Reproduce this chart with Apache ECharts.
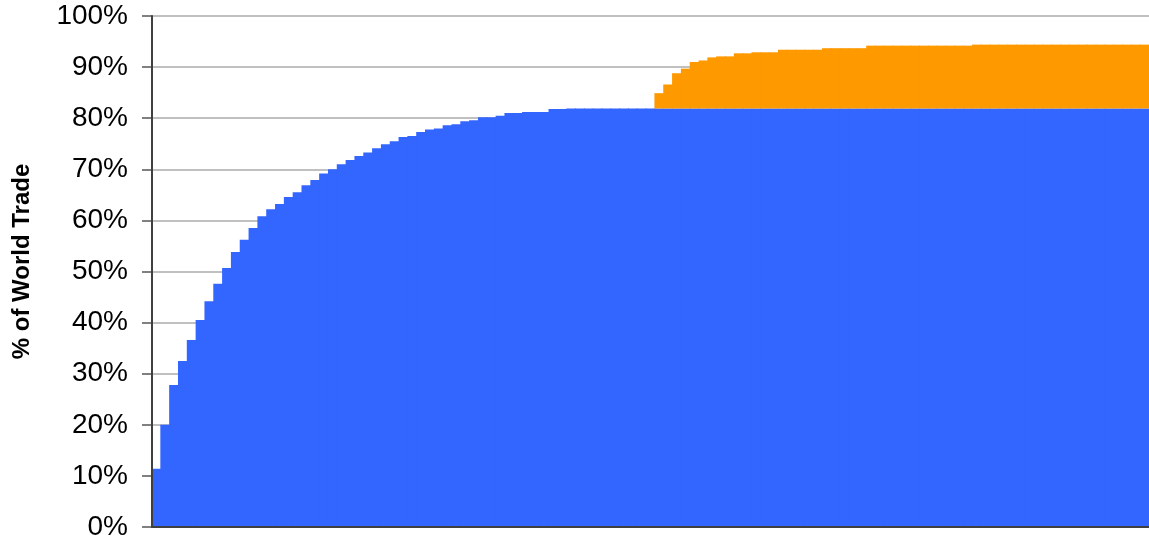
<!DOCTYPE html>
<html>
<head>
<meta charset="utf-8">
<script src="https://cdn.jsdelivr.net/npm/echarts@6/dist/echarts.min.js"></script>
<style>
  html, body { margin: 0; padding: 0; background: #fff; }
  #chart { width: 1149px; height: 541px; }
</style>
</head>
<body>
<div id="chart"></div>
<script>
// cumulative share of world trade (%)
const blueShare = [
  11.4, 20.0, 27.8, 32.5, 36.6, 40.5, 44.2, 47.6, 50.7, 53.8,
  56.2, 58.5, 60.8, 62.2, 63.2, 64.6, 65.5, 66.9, 67.9, 69.2,
  70.0, 71.0, 71.8, 72.6, 73.3, 74.1, 74.9, 75.5, 76.3, 76.5,
  77.3, 77.8, 78.0, 78.6, 78.8, 79.4, 79.6, 80.2, 80.2, 80.5,
  81.0, 81.0, 81.2, 81.2, 81.2, 81.8, 81.8, 81.9, 81.9, 81.9,
  81.9, 81.9, 81.9, 81.9, 81.9, 81.9, 81.9, 81.9, 81.9, 81.9,
  81.9, 81.9, 81.9, 81.9, 81.9, 81.9, 81.9, 81.9, 81.9, 81.9,
  81.9, 81.9, 81.9, 81.9, 81.9, 81.9, 81.9, 81.9, 81.9, 81.9,
  81.9, 81.9, 81.9, 81.9, 81.9, 81.9, 81.9, 81.9, 81.9, 81.9,
  81.9, 81.9, 81.9, 81.9, 81.9, 81.9, 81.9, 81.9, 81.9, 81.9,
  81.9, 81.9, 81.9, 81.9, 81.9, 81.9, 81.9, 81.9, 81.9, 81.9,
  81.9, 81.9, 81.9
];
// added share on top ('-' = nothing drawn)
const orangeShare = [
  '-', '-', '-', '-', '-', '-', '-', '-', '-', '-',
  '-', '-', '-', '-', '-', '-', '-', '-', '-', '-',
  '-', '-', '-', '-', '-', '-', '-', '-', '-', '-',
  '-', '-', '-', '-', '-', '-', '-', '-', '-', '-',
  '-', '-', '-', '-', '-', '-', '-', '-', '-', '-',
  '-', '-', '-', '-', '-', '-', '-', 3.0, 4.7, 6.9,
  7.8, 9.1, 9.4, 10.0, 10.2, 10.2, 10.8, 10.8, 11.0, 11.0,
  11.0, 11.5, 11.5, 11.5, 11.5, 11.5, 11.8, 11.8, 11.8, 11.8,
  11.8, 12.3, 12.3, 12.3, 12.3, 12.3, 12.3, 12.3, 12.3, 12.3,
  12.3, 12.3, 12.3, 12.5, 12.5, 12.5, 12.5, 12.5, 12.5, 12.5,
  12.5, 12.5, 12.5, 12.5, 12.5, 12.5, 12.5, 12.5, 12.5, 12.5,
  12.5, 12.5, 12.5
];
const categories = blueShare.map((_, i) => String(i + 1));
const yTicks = { min: 0, max: 100, interval: 10 };

const axisLineStyle = { color: '#404040', width: 2 };

const chart = echarts.init(document.getElementById('chart'), null, { renderer: 'canvas' });
chart.setOption({
  animation: false,
  backgroundColor: '#fff',
  grid: { left: 152, right: 0, top: 16, bottom: 14, containLabel: false },
  xAxis: [
    {
      type: 'category',
      data: categories,
      boundaryGap: true,
      axisLine: { show: false },
      axisTick: { show: false },
      axisLabel: { show: false },
      splitLine: { show: false }
    },
    // second copy only to draw the axis line above the bars
    {
      type: 'category', data: categories, position: 'bottom', z: 10,
      axisLine: { show: true, lineStyle: axisLineStyle },
      axisTick: { show: false }, axisLabel: { show: false }, splitLine: { show: false }
    }
  ],
  yAxis: [
    {
      type: 'value',
      min: yTicks.min, max: yTicks.max, interval: yTicks.interval,
      name: '% of World Trade',
      nameLocation: 'middle',
      nameGap: 118,
      nameTextStyle: { fontFamily: 'Liberation Sans', fontSize: 24, fontWeight: 'bold', color: '#000', padding: [0, 0, 0, 20] },
      axisLine: { show: false },
      axisTick: { show: true, length: 10, lineStyle: { color: '#808080', width: 2 } },
      axisLabel: { formatter: '{value}%', margin: 24, fontFamily: 'Liberation Sans', fontSize: 28, color: '#000' },
      splitLine: { show: true, lineStyle: { color: '#c0c0c0', width: 2 } }
    },
    {
      type: 'value', position: 'left', z: 10,
      min: yTicks.min, max: yTicks.max, interval: yTicks.interval,
      axisLine: { show: true, lineStyle: axisLineStyle },
      axisTick: { show: false }, axisLabel: { show: false }, splitLine: { show: false }
    }
  ],
  series: [
    // bars slightly wider than their slot so neighbours overlap and no seams show
    { type: 'bar', name: 'blue', stack: 'trade', data: blueShare, barWidth: 9.8, barGap: '-100%',
      itemStyle: { color: '#3366ff' } },
    { type: 'bar', name: 'orange', stack: 'trade', data: orangeShare, barWidth: 9.8, barGap: '-100%',
      itemStyle: { color: '#ff9900' } }
  ]
});
</script>
</body>
</html>
